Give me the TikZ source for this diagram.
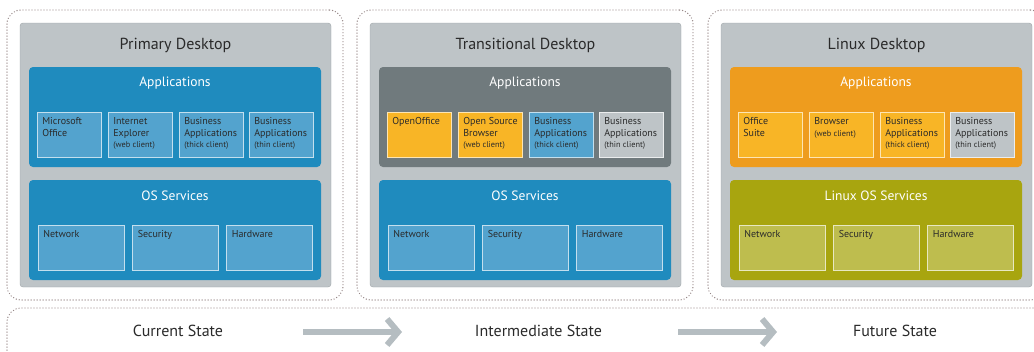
\documentclass[tikz,border=0pt]{standalone}
\usepackage{fontspec}
\setmainfont{PT Sans}
\usetikzlibrary{arrows.meta}

\definecolor{deskgrey}{RGB}{190,196,199}
\definecolor{deskedge}{RGB}{158,164,168}
\definecolor{osblue}{RGB}{31,139,190}
\definecolor{appblue}{RGB}{83,163,206}
\definecolor{slate}{RGB}{112,122,125}
\definecolor{amber}{RGB}{248,181,38}
\definecolor{tangerine}{RGB}{238,156,30}
\definecolor{olive}{RGB}{168,165,15}
\definecolor{paleolive}{RGB}{190,189,78}
\definecolor{dotcol}{RGB}{150,135,135}
\definecolor{arrowgrey}{RGB}{181,189,193}
\definecolor{ink}{RGB}{42,42,42}

\newcommand{\clientnote}[1]{{\fontsize{8.3}{10}\selectfont #1}}

\tikzset{
  stage/.style={draw=dotcol, line width=1.4pt, line cap=round, dash pattern=on 0pt off 3pt, rounded corners=14pt, minimum width=336pt, minimum height=290pt, inner sep=0pt},
  desk/.style={draw=deskedge, fill=deskgrey, rounded corners=3pt, minimum width=311pt, minimum height=264pt, inner sep=0pt},
  group/.style={rounded corners=4pt, minimum width=292pt, minimum height=100pt, inner sep=0pt},
  boxtext/.style={anchor=north west, align=left, inner xsep=5.5pt, inner ysep=6pt, text=ink, font=\fontsize{10}{11.5}\selectfont},
  app/.style={draw=white!65!appblue, line width=0.8pt, minimum width=64pt, minimum height=45pt, inner sep=0pt, label={[boxtext]north west:{#1}}},
  svc/.style={draw=white!65!appblue, line width=0.8pt, minimum width=86pt, minimum height=45pt, inner sep=0pt, label={[boxtext]north west:{#1}}},
  title/.style={font=\fontsize{16}{18}\selectfont, text=ink},
  grouptitle/.style={font=\fontsize{13.5}{15}\selectfont, text=white},
  statetext/.style={font=\fontsize{16}{18}\selectfont, text=ink},
  flow/.style={draw=arrowgrey, line width=6pt, -{Straight Barb[length=11pt, width=26pt, line width=6pt]}}
}

\begin{document}
\begin{tikzpicture}[x=1pt,y=-1pt]
\useasboundingbox (0,0) rectangle (1034,351);
\clip (0,0) rectangle (1034,351);

% current state
\node[stage] (curstage) at (175,155) {};
\node[desk] (primary) at (175.5,155) {};
\node[title] (primarytitle) at (175.5,45) {Primary Desktop};
\node[group, fill=osblue] (p1apps) at (175,117) {};
\node[grouptitle] (p1appstitle) at (175,83) {Applications};
\node[app={Microsoft\\Office}, fill=appblue] (msoffice) at (69,134.5) {};
\node[app={Internet\\Explorer\\\clientnote{(web client)}}, fill=appblue] (iexplorer) at (140,134.5) {};
\node[app={Business\\Applications\\\clientnote{(thick client)}}, fill=appblue] (p1thick) at (211,134.5) {};
\node[app={Business\\Applications\\\clientnote{(thin client)}}, fill=appblue] (p1thin) at (281,134.5) {};
\node[group, fill=osblue] (p1os) at (175,230) {};
\node[grouptitle] (p1ostitle) at (175,196) {OS Services};
\node[svc={Network}, fill=appblue] (p1net) at (81,247.5) {};
\node[svc={Security}, fill=appblue] (p1sec) at (175.5,247.5) {};
\node[svc={Hardware}, fill=appblue] (p1hw) at (269.5,247.5) {};

% intermediate state
\begin{scope}[xshift=350pt]
\node[stage] (midstage) at (175,155) {};
\node[desk] (transitional) at (175.5,155) {};
\node[title] (transtitle) at (175.5,45) {Transitional Desktop};
\node[group, fill=slate] (p2apps) at (175,117) {};
\node[grouptitle] (p2appstitle) at (175,83) {Applications};
\node[app={OpenOffice}, fill=amber, draw=white!65!amber] (openoffice) at (69,134.5) {};
\node[app={Open Source\\Browser\\\clientnote{(web client)}}, fill=amber, draw=white!65!amber] (osbrowser) at (140,134.5) {};
\node[app={Business\\Applications\\\clientnote{(thick client)}}, fill=appblue] (p2thick) at (211,134.5) {};
\node[app={Business\\Applications\\\clientnote{(thin client)}}, fill=deskgrey, draw=white!70!deskgrey] (p2thin) at (281,134.5) {};
\node[group, fill=osblue] (p2os) at (175,230) {};
\node[grouptitle] (p2ostitle) at (175,196) {OS Services};
\node[svc={Network}, fill=appblue] (p2net) at (81,247.5) {};
\node[svc={Security}, fill=appblue] (p2sec) at (175.5,247.5) {};
\node[svc={Hardware}, fill=appblue] (p2hw) at (269.5,247.5) {};
\end{scope}

% future state
\begin{scope}[xshift=701pt]
\node[stage] (futstage) at (175,155) {};
\node[desk] (linux) at (175.5,155) {};
\node[title] (linuxtitle) at (175.5,45) {Linux Desktop};
\node[group, fill=tangerine] (p3apps) at (175,117) {};
\node[grouptitle] (p3appstitle) at (175,83) {Applications};
\node[app={Office\\Suite}, fill=amber, draw=white!65!amber] (officesuite) at (69,134.5) {};
\node[app={Browser\\\clientnote{(web client)}}, fill=amber, draw=white!65!amber] (browser) at (140,134.5) {};
\node[app={Business\\Applications\\\clientnote{(thick client)}}, fill=amber, draw=white!65!amber] (p3thick) at (211,134.5) {};
\node[app={Business\\Applications\\\clientnote{(thin client)}}, fill=deskgrey, draw=white!70!deskgrey] (p3thin) at (281,134.5) {};
\node[group, fill=olive] (p3os) at (175,230) {};
\node[grouptitle] (p3ostitle) at (175,196) {Linux OS Services};
\node[svc={Network}, fill=paleolive, draw=white!65!paleolive] (p3net) at (81,247.5) {};
\node[svc={Security}, fill=paleolive, draw=white!65!paleolive] (p3sec) at (175.5,247.5) {};
\node[svc={Hardware}, fill=paleolive, draw=white!65!paleolive] (p3hw) at (269.5,247.5) {};
\end{scope}

% state band
\node[stage, minimum width=1040pt, minimum height=58pt] (band) at (527,337) {};
\node[statetext] (current) at (178,331) {Current State};
\node[statetext] (intermediate) at (538.5,331) {Intermediate State};
\node[statetext] (future) at (895,331) {Future State};
\coordinate (flow1a) at (303,332);
\coordinate (flow1b) at (402,332);
\coordinate (flow2a) at (678,332);
\coordinate (flow2b) at (777,332);
\draw[flow] (flow1a) -- (flow1b);
\draw[flow] (flow2a) -- (flow2b);
\end{tikzpicture}
\end{document}
